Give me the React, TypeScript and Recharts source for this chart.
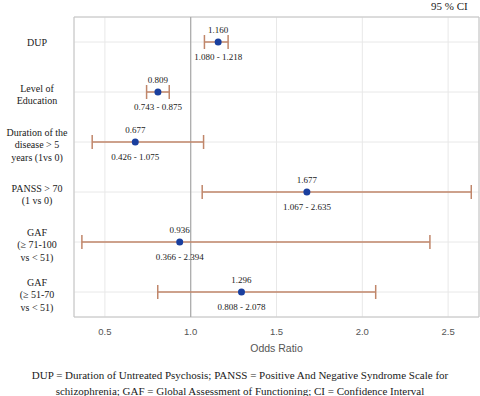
import {
  ScatterChart,
  Scatter,
  XAxis,
  YAxis,
  CartesianGrid,
  ErrorBar,
  ReferenceLine,
  ReferenceArea,
} from 'recharts';

const categories = [
  'DUP',
  'Level of\nEducation',
  'Duration of the\ndisease > 5\nyears (1vs 0)',
  'PANSS > 70\n(1 vs 0)',
  'GAF\n(≥ 71-100\nvs < 51)',
  'GAF\n(≥ 51-70\nvs < 51)',
];
const oddsRatios = [1.16, 0.809, 0.677, 1.677, 0.936, 1.296];
const ciLow = [1.08, 0.743, 0.426, 1.067, 0.366, 0.808];
const ciHigh = [1.218, 0.875, 1.075, 2.635, 2.394, 2.078];
const xTicks = [0.5, 1.0, 1.5, 2.0, 2.5];

const data = categories.map((name, i) => ({
  name,
  or: oddsRatios[i],
  err: [oddsRatios[i] - ciLow[i], ciHigh[i] - oddsRatios[i]],
  low: ciLow[i],
  high: ciHigh[i],
}));

const serif = '"Liberation Serif", "Times New Roman", serif';
const sans = '"Liberation Sans", Arial, sans-serif';

function CategoryTick({ y, payload }: any) {
  const lines = String(payload.value).split('\n');
  const start = y - ((lines.length - 1) * 12.5) / 2 + (lines.length > 1 ? 6 : 4);
  return (
    <text x={37} y={start} textAnchor="middle" fontFamily={serif} fontSize={10} fill="#1a1a1a">
      {lines.map((l, i) => (
        <tspan key={i} x={37} y={start + i * 12.5}>
          {l}
        </tspan>
      ))}
    </text>
  );
}

function PointShape({ cx, cy, payload }: any) {
  return (
    <g>
      <circle cx={cx} cy={cy} r={3.5} fill="#1a3f9e" />
      <text x={cx} y={cy - 9.5} textAnchor="middle" fontFamily={serif} fontSize={9} fill="#1a1a1a">
        {payload.or.toFixed(3)}
      </text>
      <text x={cx} y={cy + 17.5} textAnchor="middle" fontFamily={serif} fontSize={9} fill="#1a1a1a">
        {payload.low.toFixed(3)} - {payload.high.toFixed(3)}
      </text>
    </g>
  );
}

export default function App() {
  return (
    <div style={{ position: 'absolute', left: 0, top: 0, width: 480, height: 396, background: '#fff' }}>
      <div
        style={{
          position: 'absolute',
          left: 431,
          top: 0,
          fontFamily: serif,
          fontSize: 11,
          color: '#1a1a1a',
        }}
      >
        95 % CI
      </div>
      <ScatterChart width={480} height={360} margin={{ top: 17, right: 1, left: 0, bottom: 0 }}>
        <CartesianGrid stroke="#e8e8e8" />
        <ReferenceArea
          x1={0.32}
          x2={2.68}
          fill="none"
          stroke="#c4c4c4"
          strokeWidth={1}
          ifOverflow="extendDomain"
        />
        <XAxis
          type="number"
          dataKey="or"
          domain={[0.32, 2.68]}
          ticks={xTicks}
          tickFormatter={(v: number) => v.toFixed(1)}
          axisLine={false}
          tickLine={false}
          height={43}
          tick={{ fontFamily: sans, fontSize: 9.5, fill: '#555', dy: 3 }}
          label={{ value: 'Odds Ratio', position: 'insideBottom', offset: 8, fontFamily: sans, fontSize: 10.5, fill: '#555' }}
        />
        <YAxis
          type="category"
          dataKey="name"
          width={74}
          reversed
          interval={0}
          axisLine={false}
          tickLine={false}
          tick={<CategoryTick />}
        />
        <ReferenceLine x={1} stroke="#a8a8a8" strokeWidth={1.2} />
        <Scatter data={data} shape={<PointShape />} isAnimationActive={false}>
          <ErrorBar
            dataKey="err"
            direction="x"
            width={7}
            stroke="#c0866a"
            strokeWidth={1.5}
            isAnimationActive={false}
          />
        </Scatter>
      </ScatterChart>
      <div
        style={{
          position: 'absolute',
          left: 0,
          top: 367,
          width: 480,
          textAlign: 'center',
          fontFamily: serif,
          fontSize: 11,
          lineHeight: '16px',
          color: '#1a1a1a',
        }}
      >
        DUP = Duration of Untreated Psychosis; PANSS = Positive And Negative Syndrome Scale for
        <br />
        schizophrenia; GAF = Global Assessment of Functioning; CI = Confidence Interval
      </div>
    </div>
  );
}
